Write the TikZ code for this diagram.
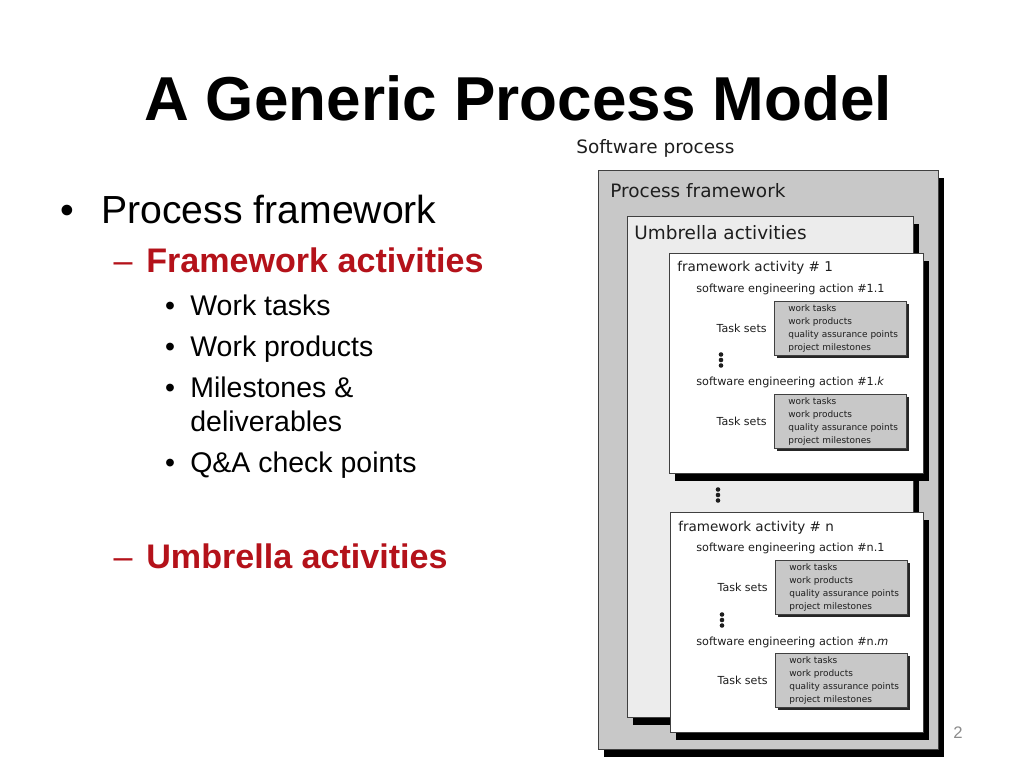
\documentclass[tikz,border=0pt]{standalone}
\usepackage{fontspec}
\setmainfont{Liberation Sans}
\newfontfamily\diagfont{DejaVu Sans}
\usetikzlibrary{positioning,shadows}
\definecolor{slidered}{RGB}{180,18,26}
\definecolor{boxgray}{RGB}{200,200,200}
\definecolor{umbgray}{RGB}{236,236,236}
\definecolor{ink}{RGB}{30,30,30}
\tikzset{
   frame box/.style={ rectangle, draw=black!75, anchor=north west, inner sep=0pt, drop shadow={shadow xshift=0.12cm, shadow yshift=-0.15cm, opacity=1, fill=black}},
   task box/.style={ rectangle, draw=black!75, fill=boxgray, anchor=north west, inner sep=0pt, minimum width=2.64cm, minimum height=1.08cm, drop shadow={shadow xshift=0.05cm, shadow yshift=-0.05cm, opacity=1, fill=black!85}},
   big label/.style={ anchor=west, inner sep=0pt, text=ink, font=\diagfont\fontsize{10.5}{12}\selectfont},
   act label/.style={ anchor=west, inner sep=0pt, text=ink, font=\diagfont\fontsize{7.7}{9}\selectfont},
   action label/.style={ anchor=west, inner sep=0pt, text=ink, font=\diagfont\fontsize{6.4}{8}\selectfont},
   task label/.style={ inner sep=0pt, text=ink, font=\diagfont\fontsize{6.3}{8}\selectfont},
   task list/.style={ anchor=west, inner sep=0pt, align=left, text=ink, font=\diagfont\fontsize{5.1}{7.4}\selectfont},
   slide title/.style={ inner sep=0pt, font=\fontsize{35.3}{40}\selectfont\bfseries},
   level one/.style={ anchor=base west, inner sep=0pt, font=\fontsize{22.3}{26}\selectfont},
   level two/.style={ anchor=base west, inner sep=0pt, text=slidered, font=\fontsize{19.4}{23}\selectfont\bfseries},
   level three/.style={ anchor=base west, inner sep=0pt, align=left, font=\fontsize{16.2}{19.3}\selectfont},
   dash mark/.style={ anchor=base, inner sep=0pt, text=slidered, font=\fontsize{19.4}{23}\selectfont},
   dot mark/.style={ anchor=base, inner sep=0pt, font=\fontsize{16.2}{19.3}\selectfont}
}
\begin{document}
\begin{tikzpicture}[x=0.02cm, y=-0.02cm]
  \useasboundingbox[fill=white] (0,0) rectangle (1024,768);

  % slide text
  \node[slide title] at (518,98) (title) {A Generic Process Model};

  \node[dot mark, font=\fontsize{22.3}{26}\selectfont] at (67,223) (bullet one) {\textbullet};
  \node[level one] at (101,223) (process item) {Process framework};

  \node[dash mark] at (123,272) (dash one) {–};
  \node[level two] at (146,272) (framework item) {Framework activities};

  \node[dot mark] at (170,315) (bullet tasks) {\textbullet};
  \node[level three] at (190,315) (tasks item) {Work tasks};
  \node[dot mark] at (170,356) (bullet products) {\textbullet};
  \node[level three] at (190,356) (products item) {Work products};
  \node[dot mark] at (170,397) (bullet milestones) {\textbullet};
  \node[level three, anchor=west] at (190,404) (milestones item) {Milestones \&\\deliverables};
  \node[dot mark] at (170,472) (bullet checks) {\textbullet};
  \node[level three] at (190,472) (checks item) {Q\&A check points};

  \node[dash mark] at (123,568) (dash two) {–};
  \node[level two] at (146,568) (umbrella item) {Umbrella activities};

  \node[inner sep=0pt, text=black!45, font=\fontsize{9.5}{11}\selectfont] at (958,733) (page) {2};

  % nested boxes
  \node[big label] at (576,148) (software label) {Software process};

  \node[frame box, fill=boxgray, minimum width=6.8cm, minimum height=11.58cm] at (598,170) (process box) {};
  \node[big label] at (610,191) (process label) {Process framework};

  \node[frame box, fill=umbgray, minimum width=5.72cm, minimum height=10.02cm] at (627,216) (umbrella box) {};
  \node[big label] at (634,233) (umbrella label) {Umbrella activities};

  % framework activity 1
  \node[frame box, fill=white, minimum width=5.08cm, minimum height=4.4cm] at (669,253) (activity one) {};
  \node[act label] at (677,268) (activity one label) {framework activity \# 1};

  \node[action label] at (696,289) (action 11) {software engineering action \#1.1};
  \node[task box] at (774,301) (tasks 11) {};
  \node[task list] at ([xshift=0.28cm]tasks 11.west) (list 11) {work tasks\\work products\\quality assurance points\\project milestones};
  \node[task label, left=0.14cm of tasks 11] (sets 11) {Task sets};

  \node[action label] at (696,382) (action 1k) {software engineering action \#1.\textit{k}};
  \node[task box] at (774,394) (tasks 1k) {};
  \node[task list] at ([xshift=0.28cm]tasks 1k.west) (list 1k) {work tasks\\work products\\quality assurance points\\project milestones};
  \node[task label, left=0.14cm of tasks 1k] (sets 1k) {Task sets};

  % framework activity n
  \node[frame box, fill=white, minimum width=5.06cm, minimum height=4.4cm] at (670,512) (activity n) {};
  \node[act label] at (678,528) (activity n label) {framework activity \# n};

  \node[action label] at (696,548) (action n1) {software engineering action \#n.1};
  \node[task box] at (775,560) (tasks n1) {};
  \node[task list] at ([xshift=0.28cm]tasks n1.west) (list n1) {work tasks\\work products\\quality assurance points\\project milestones};
  \node[task label, left=0.14cm of tasks n1] (sets n1) {Task sets};

  \node[action label] at (696,642) (action nm) {software engineering action \#n.\textit{m}};
  \node[task box] at (775,653) (tasks nm) {};
  \node[task list] at ([xshift=0.28cm]tasks nm.west) (list nm) {work tasks\\work products\\quality assurance points\\project milestones};
  \node[task label, left=0.14cm of tasks nm] (sets nm) {Task sets};

  % vertical dots
  \foreach \x/\y in {721/360, 718/495, 722/620}
    \foreach \dy in {-5.5,0,5.5}
      \fill[ink] (\x,\y+\dy) circle (1.3pt);

\end{tikzpicture}
\end{document}
